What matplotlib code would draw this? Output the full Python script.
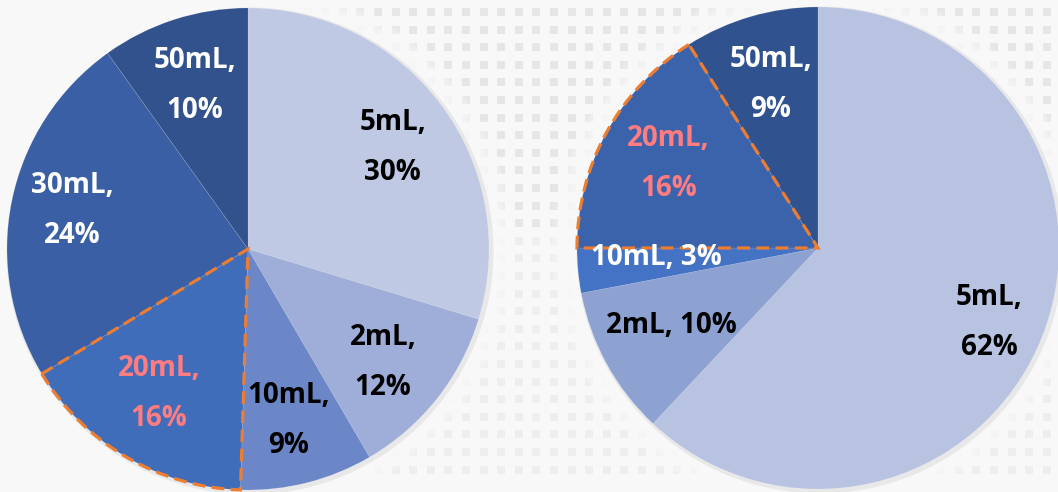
import numpy as np
import matplotlib
matplotlib.use('Agg')
import matplotlib.pyplot as plt
from matplotlib.patches import Wedge, Circle

plt.rcParams['font.family'] = ['Open Sans', 'DejaVu Sans']

# Share of each bottle size, two groups
left_sizes = ['5mL', '2mL', '10mL', '20mL', '30mL', '50mL']
left_share = [30, 12, 9, 16, 24, 10]
right_sizes = ['5mL', '2mL', '10mL', '20mL', '50mL']
right_share = [62, 10, 3, 16, 9]

left_colors = ['#bfc9e3', '#9eaed9', '#6b87c8', '#406dba', '#3a5fa5', '#31528d']
right_colors = ['#b8c2e1', '#8ea2d2', '#4472c4', '#3b63ab', '#30538f']
left_text = ['black', 'black', 'black', '#ff7c80', 'white', 'white']
right_text = ['black', 'black', 'white', '#ff7c80', 'white']

# label placement, in units of the pie radius from the centre
left_pos = [(0.60, 0.42), (0.56, -0.47), (0.17, -0.71), (-0.37, -0.60), (-0.73, 0.16), (-0.22, 0.68)]
right_pos = [(0.71, -0.31), (-0.61, -0.32), (-0.67, -0.04), (-0.62, 0.35), (-0.195, 0.68)]
right_single = [False, True, True, False, False]

W, H = 1058, 492
R = 241
fig = plt.figure(figsize=(W / 100, H / 100), dpi=100)
fig.patch.set_facecolor('#f8f8f8')
ax = fig.add_axes([0, 0, 1, 1])
ax.set_xlim(0, W)
ax.set_ylim(0, H)
ax.set_aspect('equal')
ax.axis('off')

# dotted backdrop, denser in the upper band
gx, gy = np.meshgrid(np.arange(290, W, 17.6), np.arange(H - 12, 10, -17.6))
gx, gy = gx.ravel(), gy.ravel()
upper = gy > H - 240
ax.scatter(gx[upper], gy[upper], s=36, marker='s', color='#e6e6e6', lw=0, zorder=0)
ax.scatter(gx[~upper], gy[~upper], s=36, marker='s', color='#eeeeee', lw=0, zorder=0)


def draw_pie(center, shares, sizes, colors, tcolors, pos, single, hi):
    # soft glow and shadow behind the pie
    for k in range(10):
        ax.add_patch(Circle(center, R + 3 + 2.5 * k, color='white', alpha=0.14, lw=0, zorder=1))
    ax.add_patch(Circle((center[0] + 2, center[1] - 2), R + 2.5, color='#a0a0a0', alpha=0.18, lw=0, zorder=1))
    wedges, _ = ax.pie(shares, colors=colors, startangle=90, counterclock=False,
                       radius=R, center=center, frame=True,
                       wedgeprops=dict(linewidth=0.4, edgecolor='#ffffff30'))
    for w in wedges:
        w.set_zorder(2)
    w = wedges[hi]
    ax.add_patch(Wedge(w.center, w.r, w.theta1, w.theta2, fill=False, edgecolor='#ed7d31',
                       lw=2.3, linestyle=(0, (4, 2)), zorder=3))
    for i, (s, v) in enumerate(zip(sizes, shares)):
        sep = ' ' if single[i] else '\n'
        ax.text(center[0] + pos[i][0] * R, center[1] + pos[i][1] * R, f'{s},{sep}{v}%',
                ha='center', va='center', fontsize=20, fontweight='bold', color=tcolors[i],
                linespacing=1.95, zorder=4)


draw_pie((248, H - 249), left_share, left_sizes, left_colors, left_text, left_pos, [False] * 6, 3)
draw_pie((818, H - 248), right_share, right_sizes, right_colors, right_text, right_pos, right_single, 3)

ax.set_xlim(0, W)
ax.set_ylim(0, H)
ax.axis('off')
fig.savefig('out.png', dpi=100, facecolor=fig.get_facecolor())
